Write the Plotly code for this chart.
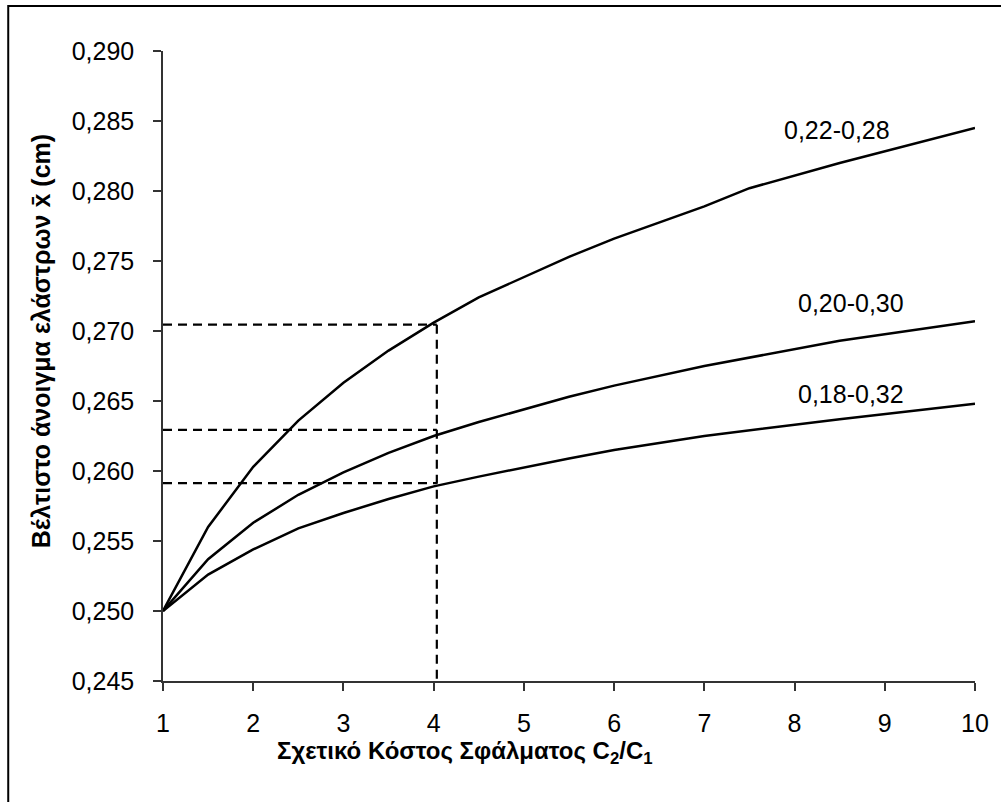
import plotly.graph_objects as go

# Relative error cost C2/C1
cost_ratio = [1, 1.5, 2, 2.5, 3, 3.5, 4, 4.5, 5.5, 6, 7, 7.5, 8.5, 10]

# Optimal spring gap (cm) for each tolerance band
gap_022_028 = [0.2500, 0.2560, 0.2603, 0.2636, 0.2663, 0.2686, 0.2706, 0.2724,
               0.2753, 0.2766, 0.2789, 0.2802, 0.2820, 0.2845]
gap_020_030 = [0.2500, 0.2537, 0.2563, 0.2583, 0.2599, 0.2613, 0.2625, 0.2635,
               0.2653, 0.2661, 0.2675, 0.2681, 0.2693, 0.2707]
gap_018_032 = [0.2500, 0.2526, 0.2544, 0.2559, 0.2570, 0.2580, 0.2589, 0.2596,
               0.2609, 0.2615, 0.2625, 0.2629, 0.2637, 0.2648]

band_labels = ["0,22-0,28", "0,20-0,30", "0,18-0,32"]

# Reading guide at C2/C1 = 4
guide_x = 4.035
guide_levels = [0.27045, 0.26294, 0.25914]

x_ticks = list(range(1, 11))
y_ticks = [0.245, 0.250, 0.255, 0.260, 0.265, 0.270, 0.275, 0.280, 0.285, 0.290]

FONT = "Liberation Sans, Arial, sans-serif"
fig = go.Figure()

# guide lines
for lvl in guide_levels:
    fig.add_trace(go.Scatter(x=[1, guide_x], y=[lvl, lvl], mode="lines",
                             line=dict(color="black", width=2.2, dash="9px,6px"),
                             hoverinfo="skip", showlegend=False))
fig.add_trace(go.Scatter(x=[guide_x, guide_x], y=[max(guide_levels), y_ticks[0]],
                         mode="lines",
                         line=dict(color="black", width=2.2, dash="9px,6px"),
                         hoverinfo="skip", showlegend=False))

for series, name in zip([gap_022_028, gap_020_030, gap_018_032], band_labels):
    fig.add_trace(go.Scatter(x=cost_ratio, y=series, mode="lines", name=name,
                             line=dict(color="black", width=2.5),
                             showlegend=False))

label_pos = [(8.467, 0.28437), (8.621, 0.27203), (8.621, 0.26551)]
for (lx, ly), txt in zip(label_pos, band_labels):
    fig.add_annotation(x=lx, y=ly, text=txt, showarrow=False,
                       font=dict(family=FONT, size=25, color="black"))

# axis titles
fig.add_annotation(x=4.35, xref="x", y=-0.113, yref="paper",
                   xanchor="center", yanchor="middle",
                   text="<b>Σχετικό Κόστος Σφάλματος C<sub>2</sub>/C<sub>1</sub></b>",
                   showarrow=False, font=dict(family=FONT, size=24, color="black"))
fig.add_annotation(x=-0.151, xref="paper", y=0.54, yref="paper", textangle=-90,
                   xanchor="center", yanchor="middle",
                   text="<b>Βέλτιστο άνοιγμα ελάστρων x\u0304 (cm)</b>",
                   showarrow=False, font=dict(family=FONT, size=25, color="black"))

# outer frame
fig.add_shape(type="rect", xref="paper", yref="paper",
              x0=-0.1906, x1=1.06, y0=-0.3, y1=1.0714,
              line=dict(color="black", width=2), fillcolor="rgba(0,0,0,0)")

axis_common = dict(showgrid=False, zeroline=False, showline=True,
                   linecolor="#333333", linewidth=1.5, ticks="outside",
                   ticklen=8, tickwidth=1.5, tickcolor="#333333",
                   tickfont=dict(family=FONT, size=25, color="black"))

fig.update_layout(
    width=1001, height=802,
    margin=dict(l=163, r=22, t=51, b=121),
    paper_bgcolor="white", plot_bgcolor="white",
    separators=",.",
    xaxis=dict(range=[1, 10], tickvals=x_ticks, ticklabelstandoff=11, **axis_common),
    yaxis=dict(range=[0.245, 0.290], tickvals=y_ticks, tickformat=".3f",
               ticklabelstandoff=14, **axis_common),
)

fig.write_html("out.html")
